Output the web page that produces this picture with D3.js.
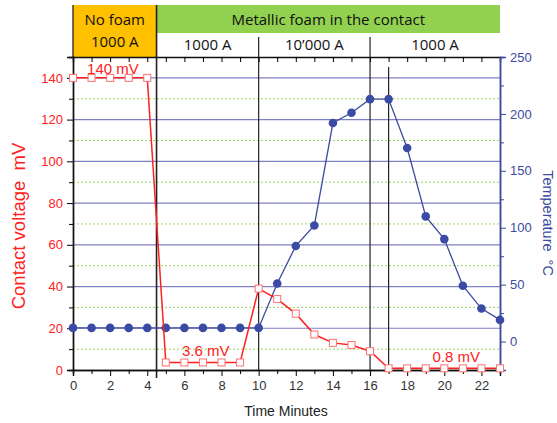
<!DOCTYPE html>
<html>
  <head>
    <meta charset="UTF-8">
    <title>Contact voltage and temperature</title>
    <style>
      body { margin: 0; background: #fff; }
      svg text { font-family: "Liberation Sans", Arial, sans-serif; }
      .hdr { font-family: "Open Sans", sans-serif !important; font-size: 15px; fill: #111; }
    </style>
  </head>
  <body>
    <svg id="chart" width="557" height="423"></svg>
    <script src="https://d3js.org/d3.v7.min.js"></script>
    <script>

// time in minutes
var minutes = [0,1,2,3,4,5,6,7,8,9,10,11,12,13,14,15,16,17,18,19,20,21,22,23];
// contact voltage, mV
var voltage = [140,140,140,140,140,3.6,3.6,3.6,3.6,3.6,39,34,27,17,13,12,9,0.8,0.8,0.8,0.8,0.8,0.8,0.8];
// temperature, degC
var temperature = [12,12,12,12,12,12,12,12,12,12,12,51,84,102,192,201,213,213,170,110,90,49,29,19];

var xTicks = [0,2,4,6,8,10,12,14,16,18,20,22];
var voltTicks = [0,20,40,60,80,100,120,140];
var tempTicks = [0,50,100,150,200,250];

// header cells: [from, to, label]
var phases = [[4.5, 23, "Metallic foam in the contact"]];
var currents = [[4.5, 10, "1000 A"], [10, 16, "10\u2019000 A"], [16, 23, "1000 A"]];
var markers = [4.5, 10, 16, 17];

var notes = [
  {x: 2.15, y: 140, text: "140 mV"},
  {x: 7.15, y: 3.6, text: "3.6 mV"},
  {x: 20.65, y: 0.8, text: "0.8 mV"}
];

var pL = 73, pR = 500, pT = 57, pB = 370;
var red = "#ff2020", blue = "#3d4a9e";

var svg = d3.select("#chart");

var x = d3.scaleLinear().domain([0, 23]).range([pL, pR]);
var yV = d3.scaleLinear().domain([0, 150]).range([pB, pT]);
var yT = d3.scaleLinear().domain([-25, 250]).range([pB, pT]);

// grid lines
svg.append("g").selectAll("line")
  .data(d3.range(10, 150, 10))
  .enter().append("line")
    .attr("x1", pL).attr("x2", pR)
    .attr("y1", d => yV(d)).attr("y2", d => yV(d))
    .attr("stroke", d => d % 20 == 0 ? "#7f7fc4" : "#8fd14f")
    .attr("stroke-width", d => d % 20 == 0 ? 1.2 : 0.9)
    .attr("stroke-dasharray", d => d % 20 == 0 ? null : "2,2");

// header
svg.append("rect")
  .attr("x", pL).attr("y", 5)
  .attr("width", x(4.5) - pL).attr("height", pT - 5)
  .attr("fill", "#ffc000");
svg.append("text").attr("class", "hdr")
  .attr("x", (pL + x(4.5)) / 2).attr("y", 25).attr("text-anchor", "middle").text("No foam");
svg.append("text").attr("class", "hdr")
  .attr("x", (pL + x(4.5)) / 2).attr("y", 47).attr("text-anchor", "middle").text("1000 A");

phases.forEach(function(p){
  svg.append("rect")
    .attr("x", x(p[0])).attr("y", 5)
    .attr("width", x(p[1]) - x(p[0])).attr("height", 28)
    .attr("fill", "#92d050");
  svg.append("text").attr("class", "hdr")
    .attr("x", (x(p[0]) + x(p[1])) / 2).attr("y", 25)
    .attr("text-anchor", "middle").text(p[2]);
});
currents.forEach(function(c){
  svg.append("text").attr("class", "hdr")
    .attr("x", (x(c[0]) + x(c[1])) / 2).attr("y", 50)
    .attr("text-anchor", "middle").text(c[2]);
});

// vertical phase lines
svg.append("line").attr("x1", pL).attr("x2", pL).attr("y1", 5).attr("y2", pT)
  .attr("stroke", "#111").attr("stroke-width", 1.2);
svg.append("g").selectAll("line")
  .data(markers)
  .enter().append("line")
    .attr("x1", d => x(d)).attr("x2", d => x(d))
    .attr("y1", d => d == 4.5 ? 5 : d == 17 ? 67 : 37)
    .attr("y2", d => d == 4.5 ? 378 : pB)
    .attr("stroke", "#222")
    .attr("stroke-width", d => d == 4.5 ? 1.6 : 1.2);

// axes
var xAxis = svg.append("g")
  .attr("transform", "translate(0," + pB + ")")
  .call(d3.axisBottom(x).tickValues(xTicks).tickSize(6).tickPadding(5));
svg.append("g")
  .attr("transform", "translate(0," + pB + ")")
  .call(d3.axisBottom(x).tickValues(d3.range(1, 23, 2)).tickSize(4).tickFormat(""));
svg.append("g")
  .attr("transform", "translate(0," + pT + ")")
  .call(d3.axisBottom(x).tickValues(d3.range(0, 24)).tickSize(5).tickFormat(""));

svg.append("g")
  .attr("transform", "translate(" + pL + ",0)")
  .call(d3.axisLeft(yV).tickValues(voltTicks).tickSize(6).tickPadding(4))
  .call(g => g.selectAll("text").attr("fill", red));
svg.append("g")
  .attr("transform", "translate(" + pL + ",0)")
  .call(d3.axisLeft(yV).tickValues(d3.range(10, 150, 20)).tickSize(4).tickFormat(""));

var rAxis = svg.append("g")
  .attr("transform", "translate(" + pR + ",0)")
  .call(d3.axisRight(yT).tickValues(tempTicks).tickSize(6).tickPadding(4));
svg.append("g")
  .attr("transform", "translate(" + pR + ",0)")
  .call(d3.axisRight(yT).tickValues([-25, 25, 75, 125, 175, 225]).tickSize(4).tickFormat(""))
  .call(g => g.selectAll("line").attr("stroke", blue))
  .call(g => g.select(".domain").attr("stroke", blue).attr("stroke-width", 1.5));
rAxis.selectAll("line").attr("stroke", blue);
rAxis.select(".domain").attr("stroke", blue).attr("stroke-width", 1.5);
rAxis.selectAll("text").attr("fill", blue);

svg.selectAll(".tick text").attr("font-size", 13).attr("font-family", "Liberation Sans, Arial, sans-serif");
xAxis.selectAll("text").attr("fill", "#333");
svg.selectAll(".domain").filter(function(){ return !this.getAttribute("stroke-width"); })
  .attr("stroke", "#111").attr("stroke-width", 1.4);

// temperature series
var tLine = d3.line().x((d, i) => x(minutes[i])).y(d => yT(d));
svg.append("path").datum(temperature)
  .attr("d", tLine).attr("fill", "none").attr("stroke", blue).attr("stroke-width", 1.3);
svg.append("g").selectAll("circle")
  .data(temperature)
  .enter().append("circle")
    .attr("cx", (d, i) => x(minutes[i])).attr("cy", d => yT(d))
    .attr("r", 4.3).attr("fill", "#3a4ba6");

// voltage series
var vLine = d3.line().x((d, i) => x(minutes[i])).y(d => yV(d));
svg.append("path").datum(voltage)
  .attr("d", vLine).attr("fill", "none").attr("stroke", red).attr("stroke-width", 1.5);
svg.append("g").selectAll("rect")
  .data(voltage)
  .enter().append("rect")
    .attr("x", (d, i) => x(minutes[i]) - 3.5).attr("y", d => yV(d) - 3.5)
    .attr("width", 7).attr("height", 7)
    .attr("fill", "#fff").attr("stroke", "#ff7070").attr("stroke-width", 1);

// notes
svg.append("g").selectAll("text")
  .data(notes)
  .enter().append("text")
    .attr("x", d => x(d.x)).attr("y", d => yV(d.y) - (d.y > 100 ? 4 : 6))
    .attr("text-anchor", "middle")
    .attr("font-family", "Open Sans, sans-serif")
    .attr("font-size", 15).attr("fill", red)
    .text(d => d.text);

// axis titles
svg.append("text")
  .attr("transform", "translate(25,226) rotate(-90)")
  .attr("text-anchor", "middle").attr("font-size", 18.5).attr("fill", red)
  .text("Contact voltage\u00a0\u00a0mV");
svg.append("text")
  .attr("transform", "translate(543,223) rotate(90)")
  .attr("text-anchor", "middle").attr("font-size", 14.5).attr("fill", blue)
  .text("Temperature\u00a0\u00a0\u00b0C");
svg.append("text")
  .attr("x", 286).attr("y", 416)
  .attr("text-anchor", "middle").attr("font-size", 14).attr("fill", "#222")
  .text("Time Minutes");

    </script>
  </body>
</html>
